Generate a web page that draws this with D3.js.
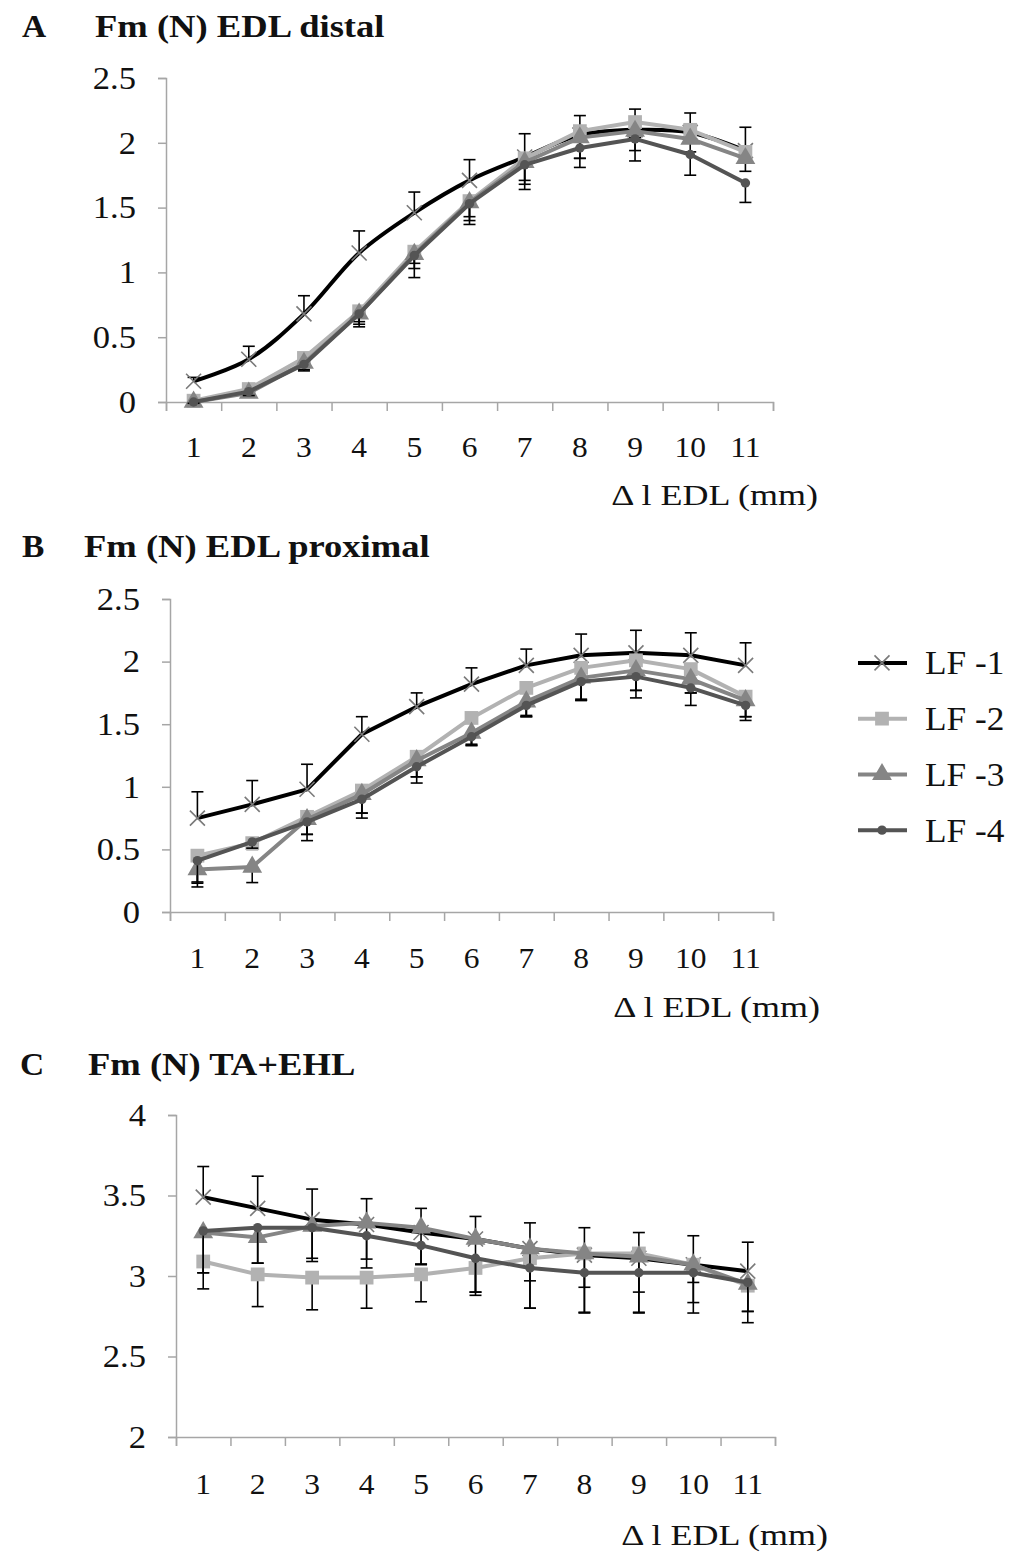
<!DOCTYPE html>
<html>
<head>
<meta charset="utf-8">
<script src="https://cdn.jsdelivr.net/npm/d3@7"></script>
<style>
  html, body { margin: 0; padding: 0; background: #fff; }
  text { font-family: "Liberation Serif", "Times New Roman", serif; fill: #111; }
</style>
</head>
<body>
<svg id="chart" width="1014" height="1553"></svg>
<script>
// ---------- data ----------
const categories = ["1","2","3","4","5","6","7","8","9","10","11"];
const seriesNames = ["LF -1","LF -2","LF -3","LF -4"];
const panelLetters = ["A","B","C"];
const panelTitles = ["Fm (N) EDL distal","Fm (N) EDL proximal","Fm (N) TA+EHL"];
const xAxisTitle = "\u0394 l EDL (mm)";

const yTicksA = [0, 0.5, 1, 1.5, 2, 2.5];
const yTicksB = [0, 0.5, 1, 1.5, 2, 2.5];
const yTicksC = [2, 2.5, 3, 3.5, 4];

// Panel A: EDL distal
const a1 = [0.16, 0.33, 0.68, 1.15, 1.46, 1.71, 1.89, 2.06, 2.10, 2.08, 1.94];
const a2 = [0.01, 0.10, 0.34, 0.70, 1.16, 1.55, 1.88, 2.09, 2.16, 2.10, 1.93];
const a3 = [0.00, 0.07, 0.30, 0.68, 1.14, 1.54, 1.85, 2.04, 2.09, 2.03, 1.88];
const a4 = [0.00, 0.08, 0.29, 0.68, 1.13, 1.53, 1.83, 1.96, 2.03, 1.91, 1.69];
const errA1 = [0.03, 0.10, 0.14, 0.17, 0.16, 0.16, 0.18, 0.15, 0.16, 0.15, 0.18];
const errA2 = [0.01, 0.03, 0.05, 0.08, 0.09, 0.12, 0.17, 0.21, 0.12, 0.10, 0.08];
const errA3 = [0.01, 0.03, 0.05, 0.08, 0.11, 0.14, 0.17, 0.16, 0.15, 0.10, 0.10];
const errA4 = [0.01, 0.03, 0.05, 0.10, 0.17, 0.16, 0.19, 0.15, 0.17, 0.16, 0.15];

// Panel B: EDL proximal
const b1 = [0.75, 0.86, 0.98, 1.42, 1.64, 1.82, 1.97, 2.05, 2.07, 2.05, 1.97];
const b2 = [0.45, 0.55, 0.76, 0.97, 1.24, 1.55, 1.79, 1.95, 2.01, 1.94, 1.72];
const b3 = [0.34, 0.36, 0.74, 0.94, 1.21, 1.43, 1.68, 1.87, 1.93, 1.86, 1.69];
const b4 = [0.41, 0.56, 0.72, 0.90, 1.16, 1.40, 1.65, 1.84, 1.88, 1.79, 1.65];
const errB1 = [0.21, 0.19, 0.20, 0.14, 0.11, 0.13, 0.13, 0.17, 0.18, 0.18, 0.18];
const errB2 = [0.22, 0.05, 0.14, 0.18, 0.16, 0.21, 0.22, 0.25, 0.24, 0.19, 0.16];
const errB3 = [0.10, 0.125, 0.12, 0.15, 0.13, 0.10, 0.12, 0.18, 0.16, 0.11, 0.13];
const errB4 = [0.21, 0.05, 0.15, 0.15, 0.13, 0.07, 0.09, 0.15, 0.17, 0.14, 0.12];

// Panel C: TA+EHL
const c1 = [3.49, 3.42, 3.35, 3.32, 3.27, 3.23, 3.17, 3.13, 3.11, 3.07, 3.03];
const c2 = [3.09, 3.01, 2.99, 2.99, 3.01, 3.05, 3.11, 3.14, 3.14, 3.07, 2.94];
const c3 = [3.27, 3.24, 3.31, 3.33, 3.30, 3.23, 3.17, 3.14, 3.12, 3.07, 2.95];
const c4 = [3.28, 3.30, 3.30, 3.25, 3.19, 3.11, 3.05, 3.02, 3.02, 3.02, 2.96];
const errC1 = [0.19, 0.20, 0.19, 0.16, 0.15, 0.14, 0.16, 0.17, 0.16, 0.18, 0.18];
const errC2 = [0.17, 0.20, 0.20, 0.19, 0.17, 0.17, 0.14, 0.21, 0.24, 0.235, 0.16];
const errC3 = [0.25, 0.16, 0.22, 0.28, 0.23, 0.33, 0.37, 0.37, 0.35, 0.30, 0.24];
const errC4 = [0.26, 0.22, 0.19, 0.145, 0.115, 0.21, 0.25, 0.245, 0.245, 0.06, 0.18];

// error bar direction per series (+1 up, -1 down)
const errDirection = [1, -1, -1, -1];

// ---------- styles ----------
const lineColors = ["#000000", "#b2b2b2", "#858585", "#545454"];
const markerColors = ["#7a7a7a", "#b2b2b2", "#858585", "#545454"];
const markerTypes = ["x", "square", "triangle", "circle"];
const axisColor = "#a6a6a6";

const panels = [
  { letter: panelLetters[0], title: panelTitles[0], values: [a1,a2,a3,a4], errs: [errA1,errA2,errA3,errA4],
    yDomain: [0, 2.5], yTicks: yTicksA, fmt: d => String(d),
    left: 166, right: 773, top: 78, bottom: 402, letterX: 22, titleX: 95, titleY: 37,
    tickY: 457, axisTitleX: 818, axisTitleY: 505, smoothFirst: true },
  { letter: panelLetters[1], title: panelTitles[1], values: [b1,b2,b3,b4], errs: [errB1,errB2,errB3,errB4],
    yDomain: [0, 2.5], yTicks: yTicksB, fmt: d => String(d),
    left: 170, right: 773, top: 599, bottom: 912, letterX: 22, titleX: 84, titleY: 557,
    tickY: 968, axisTitleX: 820, axisTitleY: 1017, smoothFirst: false },
  { letter: panelLetters[2], title: panelTitles[2], values: [c1,c2,c3,c4], errs: [errC1,errC2,errC3,errC4],
    yDomain: [2, 4], yTicks: yTicksC, fmt: d => String(d),
    left: 176, right: 775, top: 1115, bottom: 1437, letterX: 20, titleX: 88, titleY: 1075,
    tickY: 1494, axisTitleX: 828, axisTitleY: 1545, smoothFirst: false }
];

const svg = d3.select("#chart");

// text with horizontal stretch (the source figure is slightly widened)
function stretchedText(g, x, y, str, size, sx, anchor, bold, dy) {
  return g.append("text")
    .attr("transform", `translate(${x},${y}) scale(${sx},1)`)
    .attr("text-anchor", anchor || "start")
    .attr("font-size", size)
    .attr("font-weight", bold ? "bold" : "normal")
    .attr("dy", dy || 0)
    .text(str);
}

function drawMarker(g, type, cx, cy, color) {
  if (type === "x") {
    const s = 7.5;
    g.append("path")
      .attr("d", `M${cx - s},${cy - s}L${cx + s},${cy + s}M${cx - s},${cy + s}L${cx + s},${cy - s}`)
      .attr("stroke", color).attr("stroke-width", 1.6).attr("fill", "none");
  } else {
    const sym = type === "square" ? d3.symbolSquare : type === "triangle" ? d3.symbolTriangle : d3.symbolCircle;
    const size = type === "square" ? 190 : type === "triangle" ? 170 : 70;
    g.append("path")
      .attr("d", d3.symbol().type(sym).size(size)())
      .attr("transform", `translate(${cx},${cy})`)
      .attr("fill", color);
  }
}

panels.forEach(p => {
  const g = svg.append("g");

  const x = d3.scaleBand().domain(categories).range([p.left, p.right]).padding(0);
  const y = d3.scaleLinear().domain(p.yDomain).range([p.bottom, p.top]);

  // titles
  stretchedText(g, p.letterX, p.titleY, p.letter, 31, 1.08, "start", true);
  stretchedText(g, p.titleX, p.titleY, p.title, 31, 1.18, "start", true);

  // y axis
  const yAxis = d3.axisLeft(y).tickValues(p.yTicks).tickSize(8).tickFormat("");
  const yg = g.append("g").attr("transform", `translate(${p.left},0)`).call(yAxis);
  yg.select(".domain").attr("stroke", axisColor).attr("stroke-width", 1.5);
  yg.selectAll(".tick line").attr("stroke", axisColor).attr("stroke-width", 1.5);
  p.yTicks.forEach(t => stretchedText(g, p.left - 30, y(t), p.fmt(t), 32, 1.08, "end", false, "0.34em"));

  // x axis: boundary ticks
  const xb = d3.scaleLinear().domain([0, categories.length]).range([p.left, p.right]);
  const xAxis = d3.axisBottom(xb).tickValues(d3.range(categories.length + 1)).tickSize(9).tickFormat("");
  const xg = g.append("g").attr("transform", `translate(0,${p.bottom})`).call(xAxis);
  xg.select(".domain").attr("stroke", axisColor).attr("stroke-width", 1.5);
  xg.selectAll(".tick line").attr("stroke", axisColor).attr("stroke-width", 1.5);

  // x tick labels
  categories.forEach(c => stretchedText(g, x(c) + x.bandwidth() / 2, p.tickY, c, 30, 1.05, "middle"));

  stretchedText(g, p.axisTitleX, p.axisTitleY, xAxisTitle, 30, 1.2, "end");

  // series
  p.values.forEach((vals, si) => {
    const sg = g.append("g");
    const pts = vals.map((v, i) => [x(categories[i]) + x.bandwidth() / 2, y(v)]);
    const curve = (si === 0 && p.smoothFirst) ? d3.curveCatmullRom.alpha(0.5) : d3.curveLinear;
    sg.append("path")
      .attr("d", d3.line().curve(curve)(pts))
      .attr("fill", "none").attr("stroke", lineColors[si])
      .attr("stroke-width", 4).attr("stroke-linejoin", "round");

    // error bars
    vals.forEach((v, i) => {
      const cx = pts[i][0];
      const e = p.errs[si][i] * errDirection[si];
      const y1 = y(v), y2 = y(v + e);
      sg.append("line").attr("x1", cx).attr("x2", cx).attr("y1", y1).attr("y2", y2)
        .attr("stroke", "#000").attr("stroke-width", 1.6);
      sg.append("line").attr("x1", cx - 6).attr("x2", cx + 6).attr("y1", y2).attr("y2", y2)
        .attr("stroke", "#000").attr("stroke-width", 1.6);
    });

    pts.forEach(pt => drawMarker(sg, markerTypes[si], pt[0], pt[1], markerColors[si]));
  });
});

// legend
const legendYs = d3.scaleBand().domain(seriesNames).range([635, 858]);
const lg = svg.append("g");
seriesNames.forEach((name, si) => {
  const cy = legendYs(name) + legendYs.bandwidth() / 2;
  lg.append("line").attr("x1", 858).attr("x2", 907).attr("y1", cy).attr("y2", cy)
    .attr("stroke", lineColors[si]).attr("stroke-width", 4);
  drawMarker(lg, markerTypes[si], 882, cy, markerColors[si]);
  stretchedText(lg, 925, cy, name, 33, 1.07, "start", false, "0.35em");
});
</script>
</body>
</html>
